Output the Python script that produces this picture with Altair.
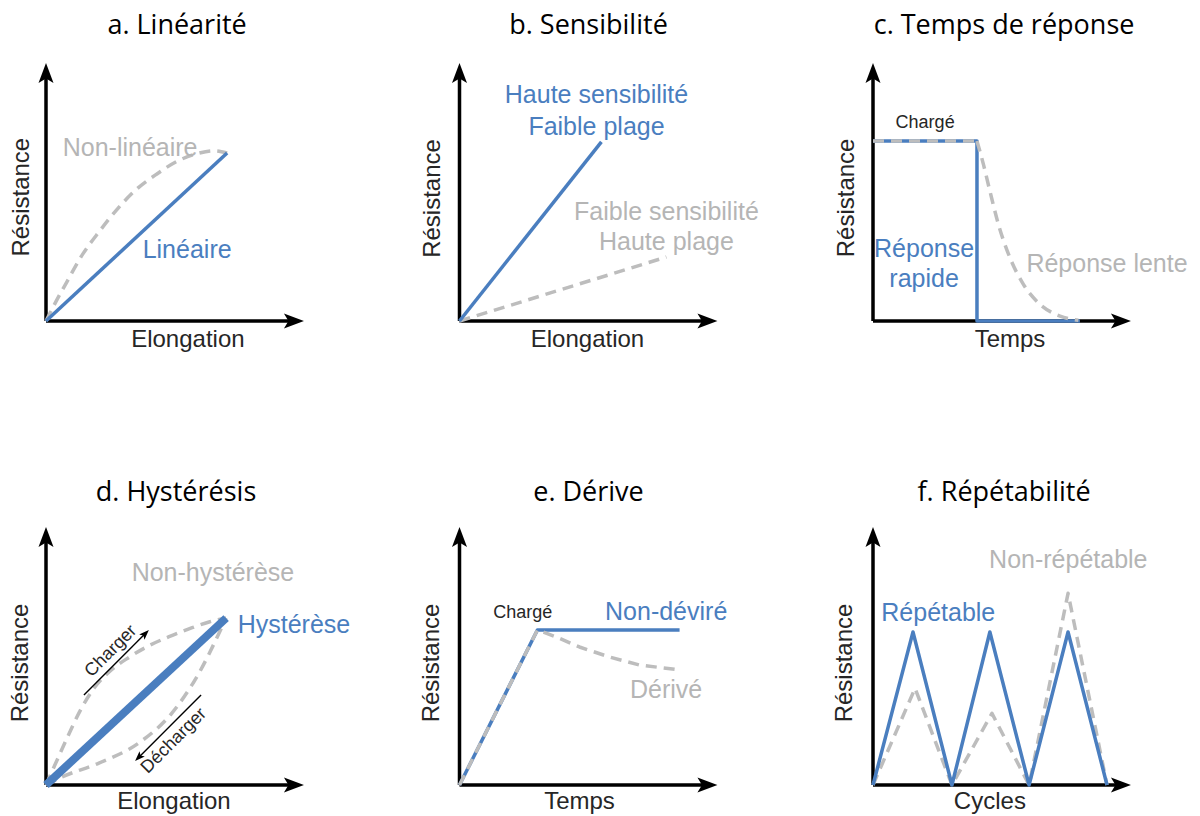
import altair as alt
import pandas as pd

# ---------------- data (units: axis arrows run from 0 to 10) ----------------
# a. Linéarité
A_LIN_X = [0, 7.02]
A_LIN_Y = [0, 6.51]
A_NL_X = [0, 0.40, 0.80, 1.43, 2.09, 2.73, 3.50, 4.30, 5.10, 5.90, 6.50, 7.02]
A_NL_Y = [0, 0.78, 1.50, 2.60, 3.50, 4.30, 5.10, 5.70, 6.20, 6.50, 6.60, 6.51]
# b. Sensibilité
B_HI_X = [0, 5.50]
B_HI_Y = [0, 6.94]
B_LO_X = [0, 8.02]
B_LO_Y = [0, 2.48]
# c. Temps de réponse
C_FAST_X = [0, 4.03, 4.03, 8.02]
C_FAST_Y = [6.98, 6.98, 0, 0]
C_TOP_X = [0, 4.03]
C_TOP_Y = [6.98, 6.98]
C_SLOW_X = [4.03, 4.28, 4.53, 4.86, 5.31, 5.83, 6.47, 7.25, 7.96]
C_SLOW_Y = [6.98, 6.07, 5.04, 3.75, 2.45, 1.42, 0.65, 0.19, 0.03]
# d. Hystérésis
D_HYS_X = [0, 6.98]
D_HYS_Y = [0, 6.47]
D_UP_X = [0, 0.31, 0.78, 1.36, 1.86, 2.52, 3.22, 3.99, 4.77, 5.54, 6.32, 6.98]
D_UP_Y = [0, 0.70, 1.74, 2.95, 3.75, 4.45, 4.95, 5.40, 5.75, 6.05, 6.32, 6.47]
D_DN_X = [0, 0.62, 2.05, 3.60, 4.88, 5.93, 6.71, 6.98]
D_DN_Y = [0, 0.31, 0.85, 1.63, 2.79, 4.34, 5.89, 6.47]
D_CHARGE_ARROW = [1.47, 3.49, 3.85, 5.87]     # x, y, x2, y2
D_DECHARGE_ARROW = [6.01, 3.49, 3.59, 1.07]
# e. Dérive
E_ND_X = [0, 3.02, 8.53]
E_ND_Y = [0, 6.01, 6.01]
E_D_X = [0, 3.02, 3.74, 4.65, 5.81, 6.98, 8.53]
E_D_Y = [0, 6.01, 5.74, 5.35, 4.96, 4.65, 4.46]
# f. Répétabilité
F_R_X = [0, 1.55, 3.06, 4.53, 6.05, 7.56, 9.07]
F_R_Y = [0, 5.93, 0, 5.93, 0, 5.93, 0]
F_NR_X = [0, 1.63, 3.06, 4.61, 6.05, 7.56, 9.07]
F_NR_Y = [0, 3.75, 0, 2.78, 0, 7.43, 0]

TITLES = ["a. Linéarité", "b. Sensibilité", "c. Temps de réponse",
          "d. Hystérésis", "e. Dérive", "f. Répétabilité"]
X_TITLES = ["Elongation", "Elongation", "Temps", "Elongation", "Temps", "Cycles"]
Y_TITLE = "Résistance"

# ---------------- layout / style ----------------
K = 25.8            # px per unit
W, H = 340, 328     # cell size
OX, OY = 38, 313    # origin inside a cell (px)
XDOM = [-OX / K, (W - OX) / K]
YDOM = [(OY - H) / K, OY / K]

BLUE = "#4a7ebf"
GRAY = "#bdbdbd"
GRAY_T = "#b5b5b5"
DARK = "#262626"
FONT = "Liberation Sans"
TFONT = "Open Sans"
DASH = [11, 7]
ARROW = "M0,-1L0.75,1L0,0.55L-0.75,1Z"

X = alt.X("x:Q", scale=alt.Scale(domain=XDOM, nice=False, zero=False), axis=None)
Y = alt.Y("y:Q", scale=alt.Scale(domain=YDOM, nice=False, zero=False), axis=None)


def line(xs, ys, color, width, dash=None, smooth=False):
    df = pd.DataFrame({"x": xs, "y": ys, "i": list(range(len(xs)))})
    kw = dict(color=color, strokeWidth=width, strokeJoin="round")
    if dash:
        kw["strokeDash"] = dash
    if smooth:
        kw["interpolate"] = "monotone"
    return alt.Chart(df).mark_line(**kw).encode(x=X, y=Y, order="i:Q")


def rules(rows, width, color="black"):
    df = pd.DataFrame(rows, columns=["x", "y", "x2", "y2"])
    return alt.Chart(df).mark_rule(strokeWidth=width, color=color).encode(
        x=X, y=Y, x2="x2:Q", y2="y2:Q")


def heads(rows, size):
    df = pd.DataFrame(rows, columns=["x", "y", "ang"])
    return alt.Chart(df).mark_point(shape=ARROW, filled=True, size=size,
                                    color="black", opacity=1, strokeWidth=0).encode(
        x=X, y=Y, angle=alt.Angle("ang:Q", scale=None))


def texts(rows):
    df = pd.DataFrame(rows, columns=["t", "x", "y", "c", "s", "a"])
    return alt.Chart(df).mark_text(font=FONT, align="center", baseline="middle").encode(
        x=X, y=Y, text="t:N",
        color=alt.Color("c:N", scale=None),
        size=alt.Size("s:Q", scale=None),
        angle=alt.Angle("a:Q", scale=None))


def title(t, x, y):
    df = pd.DataFrame({"t": [t], "x": [x], "y": [y]})
    return alt.Chart(df).mark_text(font=TFONT, fontSize=27, color="black",
                                   align="center", baseline="middle").encode(
        x=X, y=Y, text="t:N")


def axes():
    return [rules([(0, 0, 0, 9.62), (0, 0, 9.62, 0)], 3.5),
            heads([(0, 9.61, 0), (9.61, 0, 90)], 400)]


def panel(layers):
    return alt.layer(*layers).properties(width=W, height=H)


# a
pa = panel(axes() + [
    line(A_NL_X, A_NL_Y, GRAY, 3.5, DASH, smooth=True),
    line(A_LIN_X, A_LIN_Y, BLUE, 3.5),
    texts([("Non-linéaire", 3.26, 6.71, GRAY_T, 25, 0),
           ("Linéaire", 5.47, 2.75, BLUE, 25, 0),
           (X_TITLES[0], 5.50, -0.74, DARK, 24, 0),
           (Y_TITLE, -0.93, 4.80, DARK, 24, 270)]),
    title(TITLES[0], 5.08, 11.44),
])
# b
pb = panel(axes() + [
    line(B_LO_X, B_LO_Y, GRAY, 3.5, DASH),
    line(B_HI_X, B_HI_Y, BLUE, 3.5),
    texts([("Haute sensibilité", 5.31, 8.76, BLUE, 25, 0),
           ("Faible plage", 5.31, 7.52, BLUE, 25, 0),
           ("Faible sensibilité", 8.02, 4.22, GRAY_T, 25, 0),
           ("Haute plage", 8.02, 3.06, GRAY_T, 25, 0),
           (X_TITLES[1], 4.96, -0.74, DARK, 24, 0),
           (Y_TITLE, -1.03, 4.75, DARK, 24, 270)]),
    title(TITLES[1], 5.0, 11.44),
])
# c
pc = panel(axes() + [
    line(C_FAST_X, C_FAST_Y, BLUE, 3.5),
    line(C_TOP_X, C_TOP_Y, GRAY, 3.5, DASH),
    line(C_SLOW_X, C_SLOW_Y, GRAY, 3.5, DASH, smooth=True),
    texts([("Chargé", 2.02, 7.67, DARK, 18, 0),
           ("Réponse", 1.98, 2.78, BLUE, 25, 0),
           ("rapide", 1.98, 1.62, BLUE, 25, 0),
           ("Réponse lente", 9.07, 2.20, GRAY_T, 25, 0),
           (X_TITLES[2], 5.31, -0.74, DARK, 24, 0),
           (Y_TITLE, -1.0, 4.77, DARK, 24, 270)]),
    title(TITLES[2], 5.08, 11.44),
])
# d
pd_ = panel(axes() + [
    line(D_UP_X, D_UP_Y, GRAY, 3.5, DASH, smooth=True),
    line(D_DN_X, D_DN_Y, GRAY, 3.5, DASH, smooth=True),
    line(D_HYS_X, D_HYS_Y, BLUE, 8),
    rules([tuple(D_CHARGE_ARROW), tuple(D_DECHARGE_ARROW)], 1.4),
    heads([(D_CHARGE_ARROW[2], D_CHARGE_ARROW[3], 45),
           (D_DECHARGE_ARROW[2], D_DECHARGE_ARROW[3], 225)], 100),
    texts([("Charger", 2.52, 5.19, DARK, 18, 315),
           ("Décharger", 4.96, 1.71, DARK, 18, 315),
           ("Non-hystérèse", 6.47, 8.22, GRAY_T, 25, 0),
           ("Hystérèse", 9.61, 6.20, BLUE, 25, 0),
           (X_TITLES[3], 4.96, -0.66, DARK, 24, 0),
           (Y_TITLE, -0.97, 4.73, DARK, 24, 270)]),
    title(TITLES[3], 5.04, 11.32),
])
# e
pe = panel(axes() + [
    line(E_ND_X, E_ND_Y, BLUE, 3.5),
    line(E_D_X, E_D_Y, GRAY, 3.5, DASH),
    texts([("Chargé", 2.45, 6.65, DARK, 18, 0),
           ("Non-déviré", 8.01, 6.72, BLUE, 25, 0),
           ("Dérivé", 8.01, 3.68, GRAY_T, 25, 0),
           (X_TITLES[4], 4.65, -0.66, DARK, 24, 0),
           (Y_TITLE, -1.05, 4.73, DARK, 24, 270)]),
    title(TITLES[4], 5.0, 11.32),
])
# f
pf = panel(axes() + [
    line(F_NR_X, F_NR_Y, GRAY, 3.5, DASH),
    line(F_R_X, F_R_Y, BLUE, 3.5),
    texts([("Répétable", 2.53, 6.65, BLUE, 25, 0),
           ("Non-répétable", 7.57, 8.72, GRAY_T, 25, 0),
           (X_TITLES[5], 4.53, -0.66, DARK, 24, 0),
           (Y_TITLE, -1.09, 4.73, DARK, 24, 270)]),
    title(TITLES[5], 5.08, 11.32),
])

chart = alt.concat(pa, pb, pc, pd_, pe, pf, columns=3,
                   spacing={"row": 136, "column": 73.5}, bounds="flush").properties(
    padding=0, background="white"
).configure_view(stroke=None)

chart.save("out.html", embed_options={"renderer": "svg", "actions": False})
